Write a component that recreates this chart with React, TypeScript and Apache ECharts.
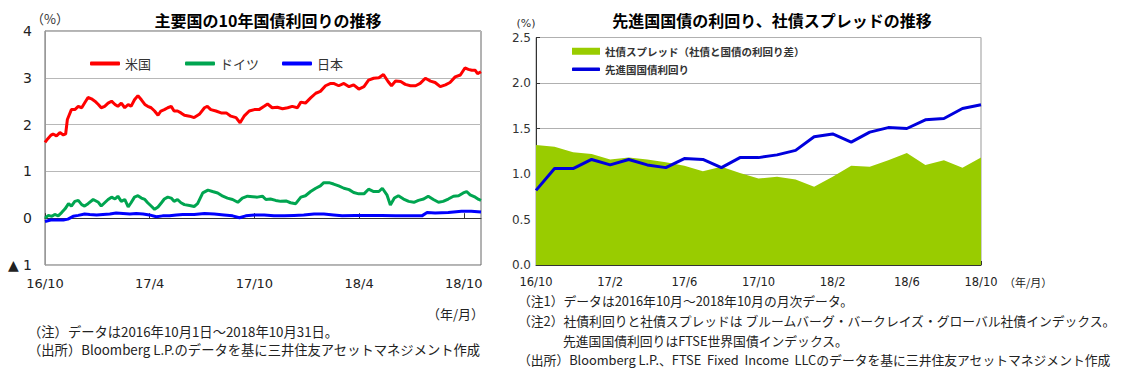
import React, { useEffect, useRef } from "react";
import * as echarts from "echarts";

// ---- Left chart: 10-year government bond yields (day offset from 2016-10-01, %) ----
const US_10Y: [number, number][] = [
  [0, 1.62], [5, 1.70], [10, 1.77], [14, 1.80], [20, 1.76], [26, 1.83], [32, 1.78], [36, 1.80],
  [39, 2.11], [46, 2.32], [52, 2.32], [58, 2.39], [64, 2.36], [69, 2.46], [75, 2.58], [81, 2.55],
  [87, 2.50], [93, 2.43], [98, 2.36], [104, 2.39], [110, 2.46], [116, 2.50], [122, 2.43], [127, 2.39],
  [133, 2.46], [139, 2.36], [145, 2.43], [150, 2.39], [156, 2.53], [162, 2.62], [168, 2.53], [174, 2.43],
  [179, 2.39], [185, 2.36], [191, 2.29], [197, 2.20], [202, 2.29], [208, 2.32], [214, 2.36], [220, 2.39],
  [225, 2.29], [231, 2.29], [237, 2.25], [243, 2.20], [252, 2.18], [260, 2.15], [269, 2.22], [278, 2.36],
  [283, 2.39], [289, 2.32], [298, 2.29], [307, 2.25], [316, 2.25], [324, 2.18], [333, 2.15], [340, 2.04],
  [347, 2.18], [356, 2.29], [365, 2.32], [373, 2.32], [382, 2.39], [388, 2.44], [396, 2.36], [405, 2.37],
  [414, 2.34], [423, 2.36], [431, 2.39], [440, 2.36], [446, 2.48], [454, 2.46], [463, 2.57], [472, 2.67],
  [480, 2.71], [489, 2.83], [498, 2.88], [503, 2.88], [512, 2.83], [521, 2.88], [530, 2.81], [538, 2.85],
  [547, 2.76], [556, 2.81], [564, 2.95], [573, 2.99], [582, 3.00], [590, 3.07], [598, 2.92], [604, 2.83],
  [611, 2.93], [620, 2.92], [628, 2.86], [637, 2.83], [646, 2.83], [654, 2.88], [663, 2.99], [672, 2.93],
  [680, 2.90], [689, 2.81], [698, 2.85], [706, 2.90], [715, 3.02], [724, 3.06], [732, 3.21], [738, 3.18],
  [744, 3.16], [750, 3.16], [754, 3.09], [760, 3.13],
];

const DE_10Y: [number, number][] = [
  [0, 0.00], [6, 0.06], [12, 0.04], [17, 0.08], [23, 0.05], [29, 0.12], [35, 0.20], [41, 0.31],
  [46, 0.26], [52, 0.36], [58, 0.38], [64, 0.29], [69, 0.26], [75, 0.31], [84, 0.40], [93, 0.34],
  [98, 0.26], [104, 0.33], [110, 0.40], [116, 0.45], [122, 0.41], [127, 0.47], [133, 0.36], [139, 0.40],
  [145, 0.24], [150, 0.33], [156, 0.45], [162, 0.48], [168, 0.43], [174, 0.40], [179, 0.33], [185, 0.26],
  [191, 0.19], [197, 0.24], [203, 0.33], [208, 0.41], [214, 0.45], [220, 0.43], [225, 0.36], [231, 0.40],
  [237, 0.33], [243, 0.29], [252, 0.27], [260, 0.25], [266, 0.31], [275, 0.54], [284, 0.60], [292, 0.57],
  [301, 0.54], [310, 0.47], [318, 0.43], [327, 0.40], [336, 0.34], [344, 0.43], [353, 0.47], [362, 0.46],
  [370, 0.45], [379, 0.47], [385, 0.40], [393, 0.41], [402, 0.38], [411, 0.36], [420, 0.37], [428, 0.33],
  [437, 0.31], [446, 0.45], [454, 0.48], [463, 0.57], [472, 0.64], [480, 0.69], [486, 0.76], [495, 0.76],
  [503, 0.73], [512, 0.69], [521, 0.64], [530, 0.61], [538, 0.55], [547, 0.52], [556, 0.52], [564, 0.62],
  [573, 0.57], [582, 0.57], [588, 0.64], [596, 0.50], [602, 0.28], [609, 0.43], [616, 0.48], [625, 0.41],
  [634, 0.36], [643, 0.34], [651, 0.38], [660, 0.41], [668, 0.47], [677, 0.40], [686, 0.34], [694, 0.36],
  [703, 0.41], [712, 0.47], [721, 0.48], [729, 0.54], [735, 0.57], [741, 0.50], [750, 0.45], [756, 0.40],
  [760, 0.38],
];

const JP_10Y: [number, number][] = [
  [0, -0.07], [10, -0.04], [20, -0.04], [32, -0.04], [40, -0.02], [49, 0.04], [58, 0.06], [69, 0.09],
  [78, 0.08], [90, 0.07], [101, 0.08], [113, 0.09], [124, 0.11], [136, 0.10], [148, 0.09], [159, 0.10],
  [171, 0.09], [182, 0.07], [194, 0.03], [205, 0.05], [217, 0.05], [229, 0.07], [240, 0.08], [260, 0.08],
  [278, 0.10], [295, 0.09], [312, 0.07], [327, 0.05], [339, 0.01], [350, 0.05], [365, 0.07], [382, 0.07],
  [399, 0.05], [417, 0.05], [434, 0.06], [451, 0.07], [469, 0.09], [486, 0.09], [503, 0.07], [518, 0.05],
  [541, 0.06], [564, 0.06], [587, 0.06], [611, 0.05], [634, 0.05], [657, 0.05], [666, 0.12], [680, 0.11],
  [703, 0.12], [726, 0.15], [743, 0.15], [760, 0.13],
];

const LEFT_TICK_LABELS = ["16/10", "17/4", "17/10", "18/4", "18/10"];
const LEFT_SERIES_NAMES = ["米国", "ドイツ", "日本"];

// ---- Right chart: monthly ----
const MONTHS = [
  "16/10", "16/11", "16/12", "17/1", "17/2", "17/3", "17/4", "17/5", "17/6", "17/7", "17/8", "17/9",
  "17/10", "17/11", "17/12", "18/1", "18/2", "18/3", "18/4", "18/5", "18/6", "18/7", "18/8", "18/9", "18/10",
];
const CORP_SPREAD = [
  1.32, 1.30, 1.24, 1.22, 1.16, 1.18, 1.16, 1.13, 1.09, 1.03, 1.08, 1.01,
  0.95, 0.97, 0.94, 0.86, 0.97, 1.09, 1.08, 1.15, 1.23, 1.10, 1.15, 1.07, 1.18,
];
const DM_GOVT_YIELD = [
  0.82, 1.06, 1.06, 1.16, 1.10, 1.16, 1.10, 1.07, 1.17, 1.16, 1.07, 1.18,
  1.18, 1.21, 1.26, 1.41, 1.44, 1.35, 1.46, 1.51, 1.50, 1.595, 1.61, 1.72, 1.76,
];
const RIGHT_SERIES_NAMES = ["社債スプレッド（社債と国債の利回り差）", "先進国国債利回り"];

const DAY_STEP = 182.5;
const NUM = "'DejaVu Sans', 'Noto Sans CJK JP', sans-serif";
const JP = "'Noto Sans CJK JP', sans-serif";

export default function App() {
  const ref = useRef<HTMLDivElement>(null);

  useEffect(() => {
    document.body.style.margin = "0";
    if (!ref.current) return;
    const chart = echarts.init(ref.current, undefined, { renderer: "svg" });

    const txt = (text: string, x: number, y: number, size: number, opts: any = {}) => ({
      type: "text",
      x,
      y,
      style: {
        text,
        fontSize: size,
        fontFamily: opts.family || JP,
        fontWeight: opts.weight || "normal",
        fill: opts.fill || "#222",
        align: opts.align || "left",
        verticalAlign: "middle",
      },
    });

    const legendBase = {
      orient: "horizontal",
      padding: 0,
      itemGap: 0,
      selectedMode: false,
    };

    chart.setOption({
      animation: false,
      backgroundColor: "#fff",
      grid: [
        { left: 45, top: 31, width: 436, height: 234, show: true, borderColor: "#666", borderWidth: 1 },
        { left: 536, top: 37.5, width: 445, height: 227.5, show: true, borderColor: "#999", borderWidth: 1 },
      ],
      legend: [
        { ...legendBase, data: [LEFT_SERIES_NAMES[0]], left: 90, top: 57, icon: "roundRect", itemWidth: 30, itemHeight: 4, textStyle: { fontSize: 13, color: "#333", fontFamily: JP } },
        { ...legendBase, data: [LEFT_SERIES_NAMES[1]], left: 185, top: 57, icon: "roundRect", itemWidth: 30, itemHeight: 4, textStyle: { fontSize: 13, color: "#333", fontFamily: JP } },
        { ...legendBase, data: [LEFT_SERIES_NAMES[2]], left: 282, top: 57, icon: "roundRect", itemWidth: 30, itemHeight: 4, textStyle: { fontSize: 13, color: "#333", fontFamily: JP } },
        { ...legendBase, data: [RIGHT_SERIES_NAMES[0]], left: 572, top: 46, icon: "rect", itemWidth: 28, itemHeight: 7, textStyle: { fontSize: 10.5, fontWeight: "bold", color: "#333", fontFamily: JP } },
        { ...legendBase, data: [RIGHT_SERIES_NAMES[1]], left: 572, top: 64, icon: "roundRect", itemWidth: 28, itemHeight: 3.5, textStyle: { fontSize: 10.5, fontWeight: "bold", color: "#333", fontFamily: JP } },
      ],
      xAxis: [
        {
          gridIndex: 0,
          type: "value",
          min: 0,
          max: 760,
          interval: DAY_STEP,
          axisLine: { show: true, lineStyle: { color: "#333" } },
          axisTick: { show: true, inside: true, length: 5, lineStyle: { color: "#333" } },
          axisLabel: {
            showMaxLabel: false,
            margin: 12,
            fontSize: 13,
            color: "#222",
            fontFamily: NUM,
            formatter: (v: number) => {
              const k = v / DAY_STEP;
              if (Math.abs(k - Math.round(k)) > 0.01) return "";
              return LEFT_TICK_LABELS[Math.round(k)] ?? "";
            },
          },
          splitLine: { show: false },
        },
        {
          gridIndex: 1,
          type: "category",
          data: MONTHS,
          boundaryGap: false,
          axisLine: { show: true, lineStyle: { color: "#333" } },
          axisTick: { show: true, inside: true, length: 4, interval: 3, lineStyle: { color: "#333" } },
          axisLabel: { interval: 3, margin: 11, fontSize: 11.5, color: "#222", fontFamily: NUM },
          splitLine: { show: false },
        },
      ],
      yAxis: [
        {
          gridIndex: 0,
          type: "value",
          min: -1,
          max: 4,
          interval: 1,
          axisLine: { show: true, lineStyle: { color: "#999" } },
          axisTick: { show: false },
          axisLabel: {
            margin: 13,
            fontSize: 14,
            color: "#222",
            fontFamily: NUM,
            formatter: (v: number) => (v < 0 ? "▲ " + Math.abs(v) : String(v)),
          },
          splitLine: { show: true, lineStyle: { color: "#b8b8b8" } },
        },
        {
          gridIndex: 1,
          type: "value",
          min: 0,
          max: 2.5,
          interval: 0.5,
          axisLine: { show: true, lineStyle: { color: "#333" } },
          axisTick: { show: true, inside: true, length: 4, lineStyle: { color: "#333" } },
          axisLabel: {
            margin: 5,
            fontSize: 12,
            color: "#333",
            fontFamily: NUM,
            formatter: (v: number) => v.toFixed(1),
          },
          splitLine: { show: true, lineStyle: { color: "#b0b0b0" } },
        },
      ],
      series: [
        {
          name: LEFT_SERIES_NAMES[0], type: "line", xAxisIndex: 0, yAxisIndex: 0, data: US_10Y,
          symbol: "none", color: "#FF0000", lineStyle: { width: 3, color: "#FF0000" },
        },
        {
          name: LEFT_SERIES_NAMES[1], type: "line", xAxisIndex: 0, yAxisIndex: 0, data: DE_10Y,
          symbol: "none", color: "#00A550", lineStyle: { width: 3, color: "#00A550" },
        },
        {
          name: LEFT_SERIES_NAMES[2], type: "line", xAxisIndex: 0, yAxisIndex: 0, data: JP_10Y,
          symbol: "none", color: "#0000FF", lineStyle: { width: 3, color: "#0000FF" },
        },
        {
          name: RIGHT_SERIES_NAMES[0], type: "line", xAxisIndex: 1, yAxisIndex: 1, data: CORP_SPREAD,
          symbol: "none", color: "#99CC00", lineStyle: { width: 0 },
          areaStyle: { color: "#99CC00", opacity: 1 },
        },
        {
          name: RIGHT_SERIES_NAMES[1], type: "line", xAxisIndex: 1, yAxisIndex: 1, data: DM_GOVT_YIELD,
          symbol: "none", color: "#0000DD", lineStyle: { width: 3, color: "#0000DD" },
        },
      ],
      graphic: [
        txt("主要国の10年国債利回りの推移", 268, 20, 16, { weight: "bold", align: "center", fill: "#000" }),
        txt("（%）", 50, 18, 13, { align: "center", fill: "#333" }),
        txt("（年/月）", 484, 313, 13, { align: "right" }),
        txt("（注）データは2016年10月1日～2018年10月31日。", 28, 331, 13.3),
        txt("（出所）Bloomberg L.P.のデータを基に三井住友アセットマネジメント作成", 28, 349, 13.3),

        txt("先進国国債の利回り、社債スプレッドの推移", 772, 20, 16, { weight: "bold", align: "center", fill: "#000" }),
        txt("(%)", 526, 23, 11, { align: "center", fill: "#333", family: NUM }),
        txt("（年/月）", 1004, 282, 11),
        txt("（注1）データは2016年10月～2018年10月の月次データ。", 518, 300, 12.8),
        txt("（注2）社債利回りと社債スプレッドは ブルームバーグ・バークレイズ・グローバル社債インデックス。", 518, 320, 12.8),
        txt("先進国国債利回りはFTSE世界国債インデックス。", 563, 340, 12.8),
        txt("（出所）Bloomberg L.P.、FTSE  Fixed  Income  LLCのデータを基に三井住友アセットマネジメント作成", 518, 359, 12.8),
      ],
    });

    return () => chart.dispose();
  }, []);

  return <div ref={ref} style={{ width: 1124, height: 368 }} />;
}
